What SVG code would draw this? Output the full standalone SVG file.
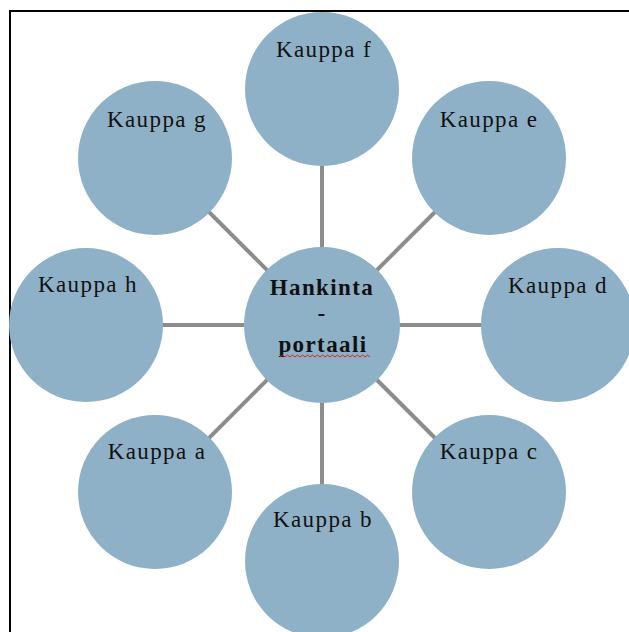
<svg xmlns="http://www.w3.org/2000/svg" width="629" height="632" viewBox="0 0 629 632">
  <style>
    .node { fill: #8EB1C7; }
    .spoke { stroke: #8C8C8C; stroke-width: 4; }
    .frame { stroke: #000; stroke-width: 2; fill: none; }
    .lbl { font-family: "Liberation Serif", "Times New Roman", serif; font-size: 23px; letter-spacing: 1.4px; fill: #111; text-anchor: middle; }
    .hub { font-weight: bold; }
  </style>
  <rect width="629" height="632" fill="#fff"/>
  <path class="frame" d="M10,632 V11 H629"/>

  <g id="connectors">
    <line class="spoke" x1="322" y1="325" x2="322" y2="89"/>
    <line class="spoke" x1="322" y1="325" x2="489" y2="158"/>
    <line class="spoke" x1="322" y1="325" x2="558" y2="325"/>
    <line class="spoke" x1="322" y1="325" x2="489" y2="492"/>
    <line class="spoke" x1="322" y1="325" x2="322" y2="561"/>
    <line class="spoke" x1="322" y1="325" x2="155" y2="492"/>
    <line class="spoke" x1="322" y1="325" x2="86" y2="325"/>
    <line class="spoke" x1="322" y1="325" x2="155" y2="158"/>
  </g>

  <g id="kauppa-f">
    <circle class="node" cx="322" cy="89" r="77"/>
    <text class="lbl" x="324" y="57">Kauppa f</text>
  </g>
  <g id="kauppa-e">
    <circle class="node" cx="489" cy="158" r="77"/>
    <text class="lbl" x="489" y="127">Kauppa e</text>
  </g>
  <g id="kauppa-d">
    <circle class="node" cx="558" cy="325" r="77"/>
    <text class="lbl" x="558" y="293">Kauppa d</text>
  </g>
  <g id="kauppa-c">
    <circle class="node" cx="489" cy="492" r="77"/>
    <text class="lbl" x="489" y="459">Kauppa c</text>
  </g>
  <g id="kauppa-b">
    <circle class="node" cx="322" cy="561" r="77"/>
    <text class="lbl" x="323" y="527">Kauppa b</text>
  </g>
  <g id="kauppa-a">
    <circle class="node" cx="155" cy="492" r="77"/>
    <text class="lbl" x="157" y="459">Kauppa a</text>
  </g>
  <g id="kauppa-h">
    <circle class="node" cx="86" cy="325" r="77"/>
    <text class="lbl" x="88" y="292">Kauppa h</text>
  </g>
  <g id="kauppa-g">
    <circle class="node" cx="155" cy="158" r="77"/>
    <text class="lbl" x="157" y="127">Kauppa g</text>
  </g>

  <g id="hankintaportaali">
    <circle class="node" cx="322" cy="325" r="78"/>
    <text class="lbl hub" x="322" y="295">Hankinta</text>
    <text class="lbl hub" x="322" y="321">-</text>
    <text class="lbl hub" x="323" y="352">portaali</text>
    <path d="M280,357 l2.5,-2 l2.5,2 l2.5,-2 l2.5,2 l2.5,-2 l2.5,2 l2.5,-2 l2.5,2 l2.5,-2 l2.5,2 l2.5,-2 l2.5,2 l2.5,-2 l2.5,2 l2.5,-2 l2.5,2 l2.5,-2 l2.5,2 l2.5,-2 l2.5,2 l2.5,-2 l2.5,2 l2.5,-2 l2.5,2 l2.5,-2 l2.5,2 l2.5,-2 l2.5,2 l2.5,-2 l2.5,2 l2.5,-2 l2.5,2 l2.5,-2 l2.5,2 l2.5,-2 l2.5,2" fill="none" stroke="#E02020" stroke-width="1"/>
  </g>
</svg>
